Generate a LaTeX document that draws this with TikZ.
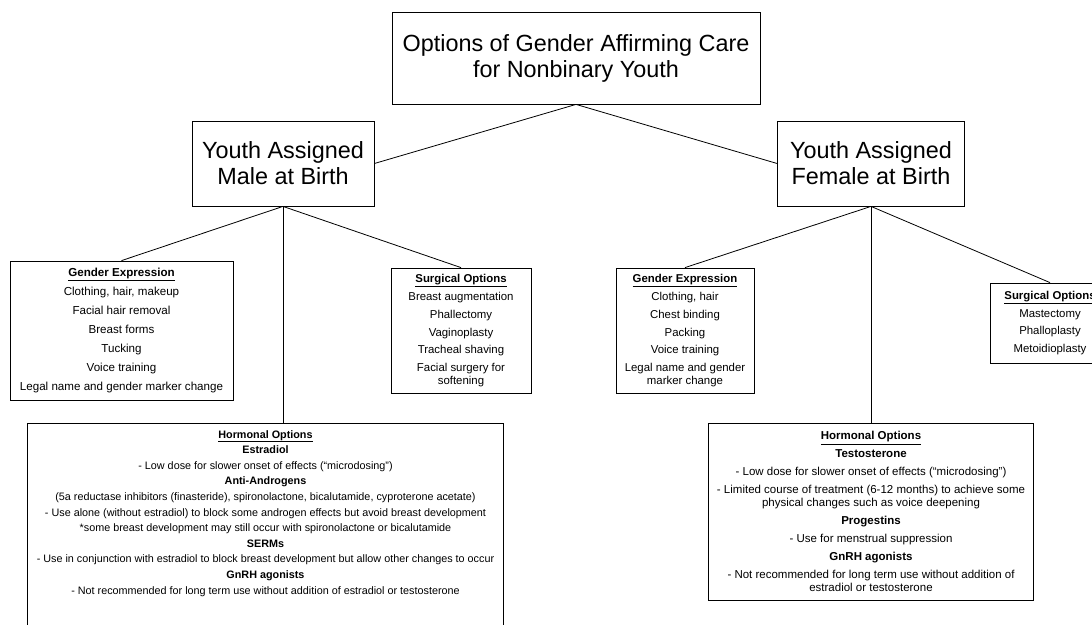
\documentclass[tikz,border=0pt]{standalone}
\usepackage{fontspec}
\setmainfont{Liberation Sans}
\newcommand{\titulo}[1]{\underline{\textbf{#1}}}
\tikzset{
  caja/.style={draw, line width=0.8pt, align=center, inner sep=0pt},
  grande/.style={caja, font=\fontsize{23.4}{26}\selectfont},
  lista/.style={caja, font=\fontsize{11.4}{17.8}\selectfont},
  enlace/.style={line width=0.8pt},
}
\begin{document}
\begin{tikzpicture}[x=1pt, y=-1pt]
  \useasboundingbox (0,0) rectangle (1092,624);

  % Caja principal
  \node[grande, minimum width=368, minimum height=92] (top) at (576,58)
    {Options of Gender Affirming Care\\for Nonbinary Youth};

  % Ramas
  \node[grande, minimum width=182, minimum height=85] (mab) at (283,163.5)
    {Youth Assigned\\Male at Birth};
  \node[grande, minimum width=187, minimum height=85] (fab) at (871,163.5)
    {Youth Assigned\\Female at Birth};

  % Opciones: asignado masculino
  \node[lista, font=\fontsize{11.6}{18.9}\selectfont, minimum width=223, minimum height=139] (mge) at (121.5,330.5)
    {\titulo{Gender Expression}\\Clothing, hair, makeup\\Facial hair removal\\Breast forms\\Tucking\\Voice training\\Legal name and gender marker change};
  \node[lista, minimum width=140, minimum height=125] (msu) at (461,330.5)
    {\titulo{Surgical Options}\\Breast augmentation\\Phallectomy\\Vaginoplasty\\Tracheal shaving\\Facial surgery for\\[-5.3pt]softening};
  \node[align=center, inner xsep=0pt, inner ysep=7pt, anchor=north, minimum width=475,
        font=\fontsize{10.8}{15.6}\selectfont] (mho) at (265.5,423)
    {\titulo{Hormonal Options}\\
     \textbf{Estradiol}\\
     - Low dose for slower onset of effects (``microdosing'')\\
     \textbf{Anti-Androgens}\\
     (5a reductase inhibitors (finasteride), spironolactone, bicalutamide, cyproterone acetate)\\
     - Use alone (without estradiol) to block some androgen effects but avoid breast development\\
     *some breast development may still occur with spironolactone or bicalutamide\\
     \textbf{SERMs}\\
     - Use in conjunction with estradiol to block breast development but allow other changes to occur\\
     \textbf{GnRH agonists}\\
     - Not recommended for long term use without addition of estradiol or testosterone};
  \draw[enlace] (mho.north west) rectangle ([yshift=-40pt]mho.south east);

  % Opciones: asignado femenino
  \node[lista, minimum width=138, minimum height=125] (fge) at (685,330.5)
    {\titulo{Gender Expression}\\Clothing, hair\\Chest binding\\Packing\\Voice training\\Legal name and gender\\[-5.3pt]marker change};
  \node[lista, minimum width=120, minimum height=80] (fsu) at (1050,323)
    {\titulo{Surgical Options}\\Mastectomy\\Phalloplasty\\Metoidioplasty};
  \node[caja, font=\fontsize{11.5}{18}\selectfont, minimum width=325, minimum height=177] (fho) at (871,511.5)
    {\titulo{Hormonal Options}\\
     \textbf{Testosterone}\\
     - Low dose for slower onset of effects (``microdosing'')\\
     - Limited course of treatment (6-12 months) to achieve some\\[-5.3pt]
     physical changes such as voice deepening\\
     \textbf{Progestins}\\
     - Use for menstrual suppression\\
     \textbf{GnRH agonists}\\
     - Not recommended for long term use without addition of\\[-5.3pt]
     estradiol or testosterone};

  % Conectores
  \draw[enlace] (top.south) -- (mab.east);
  \draw[enlace] (top.south) -- (fab.west);
  \draw[enlace] (mab.south) -- (mge.north);
  \draw[enlace] (mab.south) -- (msu.north);
  \draw[enlace] (mab.south) -- (mab.south |- mho.north);
  \draw[enlace] (fab.south) -- (fge.north);
  \draw[enlace] (fab.south) -- (fsu.north);
  \draw[enlace] (fab.south) -- (fab.south |- fho.north);
\end{tikzpicture}
\end{document}
